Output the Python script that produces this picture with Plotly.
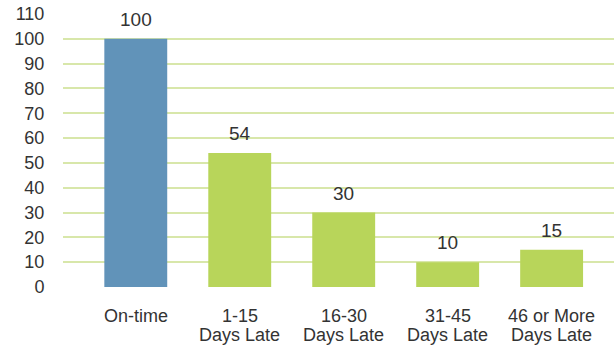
import plotly.graph_objects as go

# Payment timeliness counts
label_top = ["On-time", "1-15", "16-30", "31-45", "46 or More"]
label_bottom = ["", "Days Late", "Days Late", "Days Late", "Days Late"]
counts = [100, 54, 30, 10, 15]
bar_colors = ["#6193b9", "#b8d55a", "#b8d55a", "#b8d55a", "#b8d55a"]
y_ticks = list(range(0, 111, 10))

FONT = "Liberation Sans, Arial, Helvetica, sans-serif"
TEXT = "#333333"
GRID = "#d8e7aa"

x_pos = list(range(len(label_top)))

fig = go.Figure(
    go.Bar(
        x=x_pos,
        y=counts,
        marker=dict(color=bar_colors, line=dict(width=0)),
        hoverinfo="skip",
    )
)

# value labels above each bar
for xi, v in zip(x_pos, counts):
    fig.add_annotation(
        x=xi, y=v, text=str(v), showarrow=False,
        yanchor="bottom", yshift=7,
        font=dict(family=FONT, size=19, color=TEXT),
    )

# two-line category labels under the axis (tighter line spacing than tick labels)
for xi, top, bottom in zip(x_pos, label_top, label_bottom):
    for text, shift in ((top, -17), (bottom, -36)):
        if text:
            fig.add_annotation(
                x=xi, xref="x", y=0, yref="paper", text=text, showarrow=False,
                yanchor="top", yshift=shift,
                font=dict(family=FONT, size=18, color=TEXT),
            )

fig.update_layout(
    width=614, height=347,
    margin=dict(l=63, r=0, t=14, b=60),
    paper_bgcolor="white", plot_bgcolor="white",
    bargap=0.395,
    showlegend=False,
    font=dict(family=FONT, color=TEXT),
)

fig.update_xaxes(
    range=[-0.70, 4.6],
    showticklabels=False,
    showgrid=False, zeroline=False, showline=False, ticks="",
)

fig.update_yaxes(
    range=[0, 110],
    tickvals=y_ticks,
    tickfont=dict(family=FONT, size=18, color=TEXT),
    showgrid=True, gridcolor=GRID, gridwidth=2,
    zeroline=False, showline=False,
    ticks="outside", ticklen=14, tickcolor="rgba(0,0,0,0)",
)

fig.write_html("out.html")
